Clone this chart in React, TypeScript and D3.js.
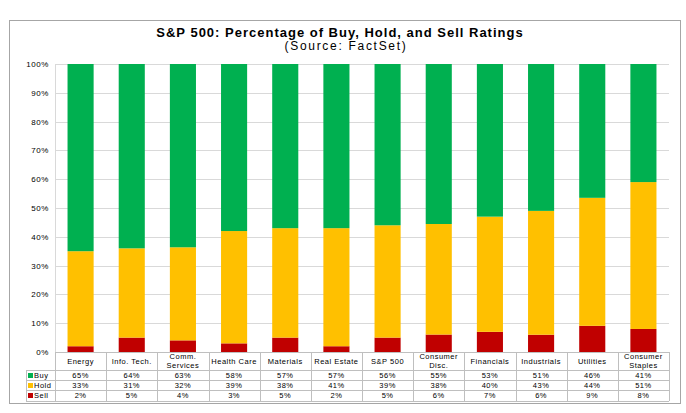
import React from "react";
import * as d3 from "d3";

const categories = ["Energy", "Info. Tech.", "Comm.\nServices", "Health Care", "Materials", "Real Estate", "S&P 500", "Consumer\nDisc.", "Financials", "Industrials", "Utilities", "Consumer\nStaples"];
const buy = [65, 64, 63, 58, 57, 57, 56, 55, 53, 51, 46, 41];
const hold = [33, 31, 32, 39, 38, 41, 39, 38, 40, 43, 44, 51];
const sell = [2, 5, 4, 3, 5, 2, 5, 6, 7, 6, 9, 8];
const seriesNames = ["Buy", "Hold", "Sell"];
const seriesColors = ["#00B050", "#FFC000", "#C00000"];
const yTicks = [0, 0.1, 0.2, 0.3, 0.4, 0.5, 0.6, 0.7, 0.8, 0.9, 1];

const W = 686, H = 413;
const plotL = 55, plotR = 669, plotT = 64, plotB = 352;
const rowH = [370, 380, 390, 401];
const font = "'Liberation Sans', Arial, sans-serif";

export default function App() {
  const rows = categories.map((c, i) => ({ cat: c, Sell: sell[i], Hold: hold[i], Buy: buy[i] }));
  const stack = d3.stack<any>().keys(["Sell", "Hold", "Buy"]).offset(d3.stackOffsetExpand);
  const layers = stack(rows);
  const x = d3.scaleBand<string>().domain(categories).range([plotL, plotR]).paddingInner(0.49).paddingOuter(0.245);
  const xCell = d3.scaleBand<string>().domain(categories).range([plotL, plotR]);
  const y = d3.scaleLinear().domain([0, 1]).range([plotB, plotT]);
  const colorOf: Record<string, string> = { Buy: seriesColors[0], Hold: seriesColors[1], Sell: seriesColors[2] };
  const values = [buy, hold, sell];
  const grid = "#d9d9d9";
  const border = "#bfbfbf";
  const ls = 0.5;

  return (
    <svg width={W} height={H} style={{ position: "absolute", left: 0, top: 0, background: "#fff" }} fontFamily={font}>
      <rect x={0} y={0} width={W} height={H} fill="#fff" />
      <rect x={9.5} y={20.5} width={671} height={383} fill="none" stroke="#a6a6a6" strokeWidth={1} />
      <text x={340} y={37} textAnchor="middle" fontSize={13} fontWeight="bold" letterSpacing={1} fill="#000">S&amp;P 500: Percentage of Buy, Hold, and Sell Ratings</text>
      <text x={346} y={50} textAnchor="middle" fontSize={12} letterSpacing={1.7} fill="#000">(Source: FactSet)</text>

      {yTicks.map((t) => (
        <g key={t}>
          <line x1={plotL} x2={plotR} y1={Math.round(y(t)) + 0.5} y2={Math.round(y(t)) + 0.5} stroke={grid} strokeWidth={1} />
          <text x={49} y={y(t) + 3} textAnchor="end" fontSize={8} letterSpacing={0.6} fill="#000">{d3.format(".0%")(t)}</text>
        </g>
      ))}
      <line x1={plotL + 0.5} x2={plotL + 0.5} y1={plotT} y2={plotB} stroke={grid} />

      {layers.map((layer) => (
        <g key={layer.key} fill={colorOf[layer.key]}>
          {layer.map((d, i) => (
            <rect key={i} x={x(categories[i])} width={x.bandwidth()} y={y(d[1])} height={y(d[0]) - y(d[1])} />
          ))}
        </g>
      ))}

      {/* table */}
      <g stroke={border} strokeWidth={1} fill="none">
        <line x1={plotL} x2={plotR} y1={plotB + 0.5} y2={plotB + 0.5} />
        {rowH.map((r) => (
          <line key={r} x1={26} x2={plotR} y1={r + 0.5} y2={r + 0.5} />
        ))}
        <line x1={26.5} x2={26.5} y1={rowH[0]} y2={rowH[3]} />
        {categories.map((c, i) => (
          <line key={i} x1={Math.round(xCell(c)!) + 0.5} x2={Math.round(xCell(c)!) + 0.5} y1={plotB} y2={rowH[3]} />
        ))}
        <line x1={plotR + 0.5} x2={plotR + 0.5} y1={plotB} y2={rowH[3]} />
      </g>
      {categories.map((c, i) => {
        const lines = c.split("\n");
        const cx = xCell(c)! + xCell.bandwidth() / 2;
        return (
          <text key={i} x={cx} textAnchor="middle" fontSize={7.5} letterSpacing={ls} fill="#000">
            {lines.map((l, j) => (
              <tspan key={j} x={cx} y={lines.length === 1 ? 364 : 359 + j * 8.5}>{l}</tspan>
            ))}
          </text>
        );
      })}
      {seriesNames.map((s, r) => (
        <g key={s}>
          <rect x={28} y={rowH[r] + 3} width={5} height={5} fill={seriesColors[r]} />
          <text x={34} y={rowH[r] + 8} fontSize={7.5} letterSpacing={ls} fill="#000">{s}</text>
          {categories.map((c, i) => (
            <text key={i} x={xCell(c)! + xCell.bandwidth() / 2} y={rowH[r] + 8} textAnchor="middle" fontSize={7.5} letterSpacing={ls} fill="#000">
              {values[r][i]}%
            </text>
          ))}
        </g>
      ))}
    </svg>
  );
}
